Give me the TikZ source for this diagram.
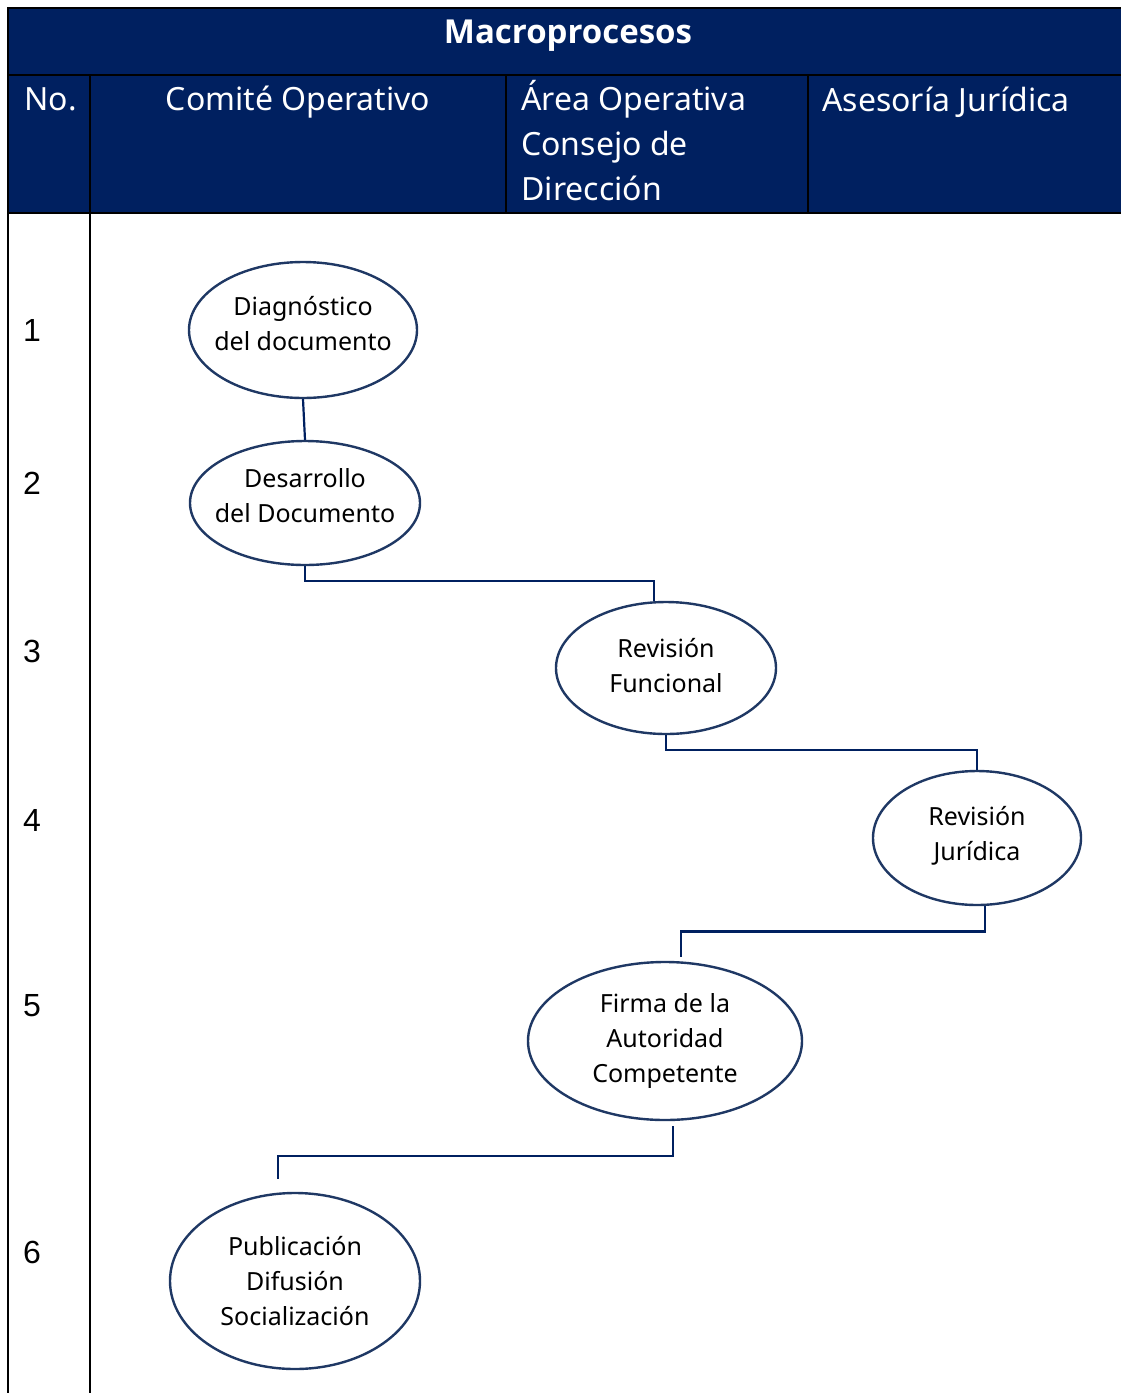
\documentclass[tikz,border=0pt]{standalone}
\usepackage{fontspec}
\setmainfont{Noto Sans}
\newfontfamily\numfont{Liberation Sans}
\newfontfamily\titlefont{Open Sans}
\usetikzlibrary{shapes.geometric,ext.paths.ortho}

\definecolor{navy}{HTML}{002060}
\definecolor{ring}{HTML}{1F3864}

\begin{document}
\begin{tikzpicture}[x=0.5pt,y=-0.5pt,
  grid/.style={line width=1.3pt,black},
  head/.style={text=white,font=\fontsize{16}{22.5}\selectfont,inner sep=0pt,anchor=north west,align=left},
  num/.style={font=\numfont\fontsize{16}{18}\selectfont,inner sep=0pt},
  task/.style={draw=ring,line width=1.2pt,ellipse,inner xsep=-12pt,inner ysep=-6pt,align=center,
    font=\fontsize{12.5}{17.5}\selectfont},
  link/.style={draw=navy,line width=1.1pt}]

\useasboundingbox (0,0) rectangle (1120,1393);

% table
\fill[navy] (8,8) rectangle (1130,213);
\draw[grid] (1130,8) -- (8,8) -- (8,1400);
\draw[grid] (8,75) -- (1130,75);
\draw[grid] (8,213) -- (1130,213);
\draw[grid] (90,75) -- (90,1400);
\draw[grid] (506,75) -- (506,213);
\draw[grid] (808,75) -- (808,213);

% header
\node[text=white,font=\titlefont\bfseries\fontsize{16.5}{18}\selectfont] (title) at (568,36) {Macroprocesos};
\node[head] (hNo) at (24,87) {No.};
\node[head,anchor=north,align=center] (hComite) at (298,86) {Comité Operativo};
\node[head] (hArea) at (521,80) {Área Operativa\\Consejo de\\Dirección};
\node[head] (hAsesoria) at (822,87) {Asesoría Jurídica};

% row numbers
\node[num] (n1) at (32,330) {1};
\node[num] (n2) at (32,483) {2};
\node[num] (n3) at (32,651) {3};
\node[num] (n4) at (32,820) {4};
\node[num] (n5) at (32,1006) {5};
\node[num] (n6) at (32,1252) {6};

% steps
\node[task,minimum width=114pt,minimum height=68pt] (diag) at (303,330) {Diagnóstico\\del documento\\[-10.5pt]};
\node[task,minimum width=115pt,minimum height=62pt] (desa) at (305,503) {Desarrollo\\del Documento\\[-10pt]};
\node[task,minimum width=110pt,minimum height=66pt] (revf) at (666,668) {Revisión\\Funcional\\[-14.5pt]};
\node[task,minimum width=104pt,minimum height=67pt] (revj) at (977,838) {Revisión\\Jurídica\\[-12.5pt]};
\node[task,minimum width=137pt,minimum height=79pt] (firma) at (665,1041) {Firma de la\\Autoridad\\Competente};
\node[task,minimum width=125pt,minimum height=88pt] (publ) at (295,1281) {Publicación\\Difusión\\Socialización};

% connectors
\draw[link] (diag.south) -- (desa.north);
\draw[link] (desa.south) |-|[ratio=.43] ([xshift=-6pt]revf.north);
\draw[link] (revf.south) |-|[ratio=.42] (revj.north);
\draw[link] ([xshift=4pt]revj.south) |-|[ratio=.5] ([xshift=8pt,yshift=2pt]firma.north);
\draw[link] ([xshift=4pt,yshift=-2.5pt]firma.south) |-|[ratio=.56] ([xshift=-8.5pt,yshift=6.5pt]publ.north);

\end{tikzpicture}
\end{document}
